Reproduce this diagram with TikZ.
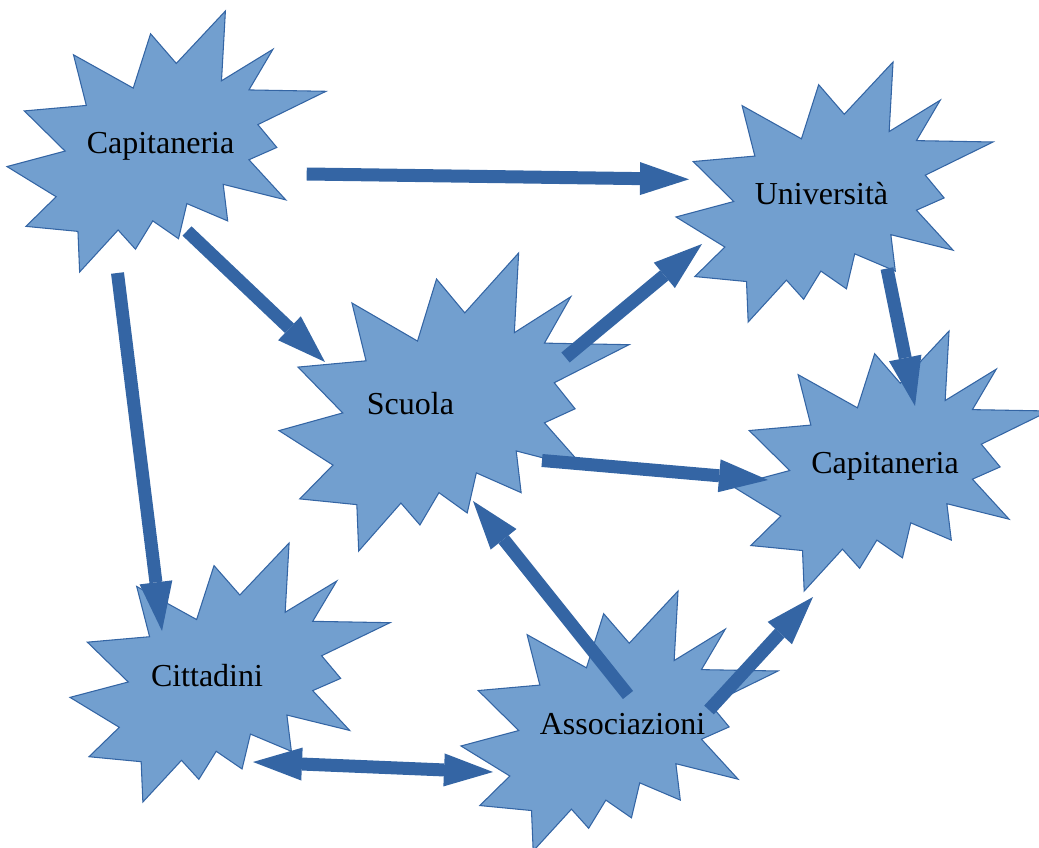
\documentclass[tikz,border=0pt]{standalone}
\usepackage{fontspec}
\setmainfont{Liberation Serif}
\usepackage{xcolor}
\usepackage{tikz}
\usetikzlibrary{
  arrows.meta
}
\definecolor{BurstBlue}{RGB}{114, 159, 207}
\definecolor{ArrowBlue}{RGB}{52, 101, 164}
\tikzset{
    burstshape/.style={fill=BurstBlue, draw=ArrowBlue, line width=0.8pt, line join=miter},
    burstlabel/.style={anchor=base, font=\fontsize{24}{29}\selectfont},
    blockarrow/.style={draw=ArrowBlue, line width=9.75pt,
        -{Triangle[length=36.75pt, width=24.75pt, line width=0pt]}},
    blockdouble/.style={draw=ArrowBlue, line width=9.75pt,
        {Triangle[length=36.75pt, width=24.75pt, line width=0pt]}-{Triangle[length=36.75pt, width=24.75pt, line width=0pt]}}
}
\newcommand{\burst}[4]{%
    \draw[burstshape, shift={(#1,#2)}, xscale=#3/216, yscale=#4/216]
        (114.64,43.40) -- (97.22,18.87) -- (85.48,63.83) -- (45.03,36.26) -- (53.73,78.16)
        -- (11.74,82.70) -- (39.34,115.92) -- (0,128.75) -- (33.29,153.72) -- (12.83,178.24)
        -- (48.04,182.39) -- (49.18,216) -- (75.25,181.25) -- (86.98,197.12) -- (98.71,173.71)
        -- (116.14,188.44) -- (121.78,159.37) -- (149.43,173.71) -- (146.40,143.48) -- (188.78,156.32)
        -- (163.82,123.11) -- (182.70,112.92) -- (169.86,94.04) -- (216,66.46) -- (163.82,65.33)
        -- (180.05,31.72) -- (145.24,57.78) -- (147.89,0) -- cycle;
}

\begin{document}
\begin{tikzpicture}[x=0.75pt, y=-0.75pt]
    \useasboundingbox (0,0) rectangle (1039,848);

    \burst{7}{11}{319}{261}
    \burst{676}{62}{317}{260}
    \burst{279}{253}{350}{298}
    \burst{732}{331}{317}{260}
    \burst{70}{543}{320}{259}
    \burst{461}{591}{317}{260}

    \node[burstlabel] (cap1) at (160.5,154) {Capitaneria};
    \node[burstlabel] (uni) at (821.5,205) {Università};
    \node[burstlabel] (scu) at (410.5,415) {Scuola};
    \node[burstlabel] (cap2) at (885,474) {Capitaneria};
    \node[burstlabel] (cit) at (207,686) {Cittadini};
    \node[burstlabel] (ass) at (622.5,734) {Associazioni};

    \coordinate (cap1-uni) at (306.7,174);
    \coordinate (uni-cap1) at (689,179.3);
    \coordinate (cap1-scu) at (187,231);
    \coordinate (scu-cap1) at (325,362);
    \coordinate (cap1-cit) at (117.5,273);
    \coordinate (cit-cap1) at (162,631);
    \coordinate (scu-uni) at (565.5,357.5);
    \coordinate (uni-scu) at (702,244);
    \coordinate (uni-cap2) at (887,268.5);
    \coordinate (cap2-uni) at (915,406);
    \coordinate (scu-cap2) at (542,460.5);
    \coordinate (cap2-scu) at (768,480);
    \coordinate (ass-scu) at (628,695);
    \coordinate (scu-ass) at (473,501);
    \coordinate (ass-cap2) at (709,710);
    \coordinate (cap2-ass) at (813,597);
    \coordinate (cit-ass) at (253,762);
    \coordinate (ass-cit) at (493,772);

    \draw[blockarrow] (cap1-uni) -- (uni-cap1);
    \draw[blockarrow] (cap1-scu) -- (scu-cap1);
    \draw[blockarrow] (cap1-cit) -- (cit-cap1);
    \draw[blockarrow] (scu-uni) -- (uni-scu);
    \draw[blockarrow] (uni-cap2) -- (cap2-uni);
    \draw[blockarrow] (scu-cap2) -- (cap2-scu);
    \draw[blockarrow] (ass-scu) -- (scu-ass);
    \draw[blockarrow] (ass-cap2) -- (cap2-ass);
    \draw[blockdouble] (cit-ass) -- (ass-cit);
\end{tikzpicture}
\end{document}
